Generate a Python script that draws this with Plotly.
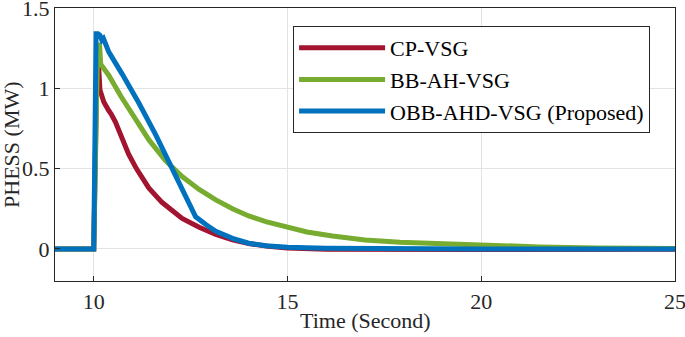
import plotly.graph_objects as go

# ---- data ----
t_cp = [9, 10.0, 10.08, 10.13, 10.16, 10.26, 10.39, 10.45, 10.56, 10.73, 10.9, 11.1, 11.42, 11.76,
        12.0, 12.28, 12.72, 13.15, 13.58, 14.0, 14.5, 15, 16, 18, 20, 25]
p_cp = [0, 0, 1.12, 1.12, 0.99, 0.915, 0.86, 0.84, 0.79, 0.68, 0.59, 0.50, 0.38, 0.29,
        0.24, 0.19, 0.135, 0.09, 0.056, 0.033, 0.016, 0.006, -0.002, -0.005, -0.004, -0.002]

t_bb = [9, 10.0, 10.1, 10.15, 10.18, 10.25, 10.32, 10.39, 10.7, 11.0, 11.42, 11.85, 12.28, 12.72,
        13.15, 13.58, 14.0, 14.44, 15, 15.5, 16.16, 17.0, 17.9, 19.2, 20, 21.5, 23, 25]
p_bb = [0, 0, 1.27, 1.27, 1.15, 1.13, 1.10, 1.08, 0.95, 0.84, 0.68, 0.55, 0.45, 0.37,
        0.305, 0.25, 0.205, 0.17, 0.135, 0.105, 0.08, 0.056, 0.042, 0.03, 0.022, 0.012, 0.006, 0.002]

t_obb = [9, 10.0, 10.06, 10.11, 10.16, 10.21, 10.25, 10.3, 10.39, 10.73, 11.16, 11.6, 12.1, 12.63,
         12.9, 13.15, 13.58, 14.0, 14.44, 15, 16, 18, 20, 25]
p_obb = [0, 0, 1.34, 1.34, 1.33, 1.30, 1.31, 1.27, 1.225, 1.09, 0.91, 0.71, 0.46, 0.20,
         0.15, 0.11, 0.066, 0.035, 0.019, 0.01, 0.004, 0.001, 0, 0]

names = ["CP-VSG", "BB-AH-VSG", "OBB-AHD-VSG (Proposed)"]
colors = ["#A2142F", "#77AC30", "#0072BD"]
x_ticks = [10, 15, 20, 25]
y_ticks = [0, 0.5, 1, 1.5]
y_tick_text = ["0", "0.5", "1", "1.5"]
x_title = "Time (Second)"
y_title = "PHESS (MW)"

FONT = "Liberation Serif, Times New Roman, serif"
FS = 22
TXT = "#262626"

fig = go.Figure()
for t, p, n, c in zip([t_cp, t_bb, t_obb], [p_cp, p_bb, p_obb], names, colors):
    fig.add_trace(go.Scatter(x=t, y=p, mode="lines", name=n,
                             line=dict(color=c, width=5)))

axis_common = dict(showline=True, linecolor=TXT, linewidth=1.2, mirror=True,
                   showgrid=True, gridcolor="#e3e3e3", gridwidth=1,
                   ticks="inside", ticklen=5, tickcolor=TXT, zeroline=False,
                   automargin=False, ticklabeloverflow="allow",
                   tickfont=dict(family=FONT, size=FS, color=TXT))

fig.update_xaxes(range=[9, 25], tickvals=x_ticks, **axis_common)
fig.update_yaxes(range=[-0.2, 1.5], tickvals=y_ticks, ticktext=y_tick_text, **axis_common)

# axis titles placed as annotations for exact positioning
fig.add_annotation(text=x_title, xref="paper", yref="paper", x=0.5, y=-0.1465,
                   xanchor="center", yanchor="middle", showarrow=False,
                   font=dict(family=FONT, size=FS, color=TXT))
fig.add_annotation(text=y_title, xref="paper", yref="paper", x=-0.0702, y=0.5,
                   xanchor="center", yanchor="middle", showarrow=False, textangle=-90,
                   font=dict(family=FONT, size=FS, color=TXT))

fig.update_layout(
    width=685, height=337,
    margin=dict(l=55, r=10, t=8, b=56),
    paper_bgcolor="white", plot_bgcolor="white",
    showlegend=True,
    legend=dict(x=0.384, y=0.934, xanchor="left", yanchor="top",
                bgcolor="white", bordercolor=TXT, borderwidth=1,
                font=dict(family=FONT, size=FS, color="#000000"),
                itemwidth=86, tracegroupgap=0),
)

fig.write_html("out.html", config={"displayModeBar": False},
               post_script="document.body.style.margin='0';document.body.style.overflow='hidden';")
